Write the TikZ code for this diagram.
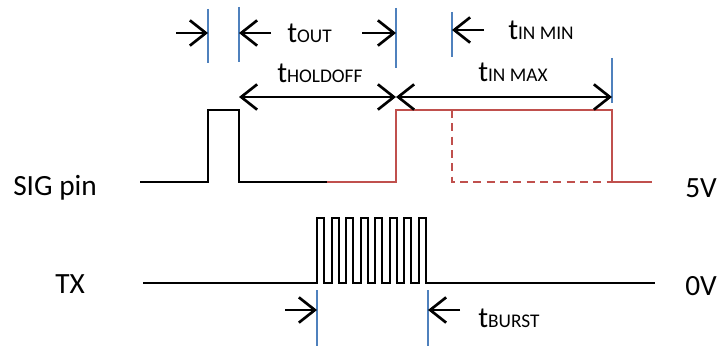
\documentclass[tikz,border=0pt]{standalone}
\usepackage{fontspec}
\setmainfont{Carlito}
\usetikzlibrary{arrows.meta,positioning}
\definecolor{sigred}{HTML}{C0504D}
\definecolor{guideblue}{HTML}{4F81BD}
\newcommand\sbs[1]{{\fontsize{14.5}{16}\selectfont #1}}
\tikzset{
  wave/.style={line width=1.5pt,line join=miter},
  redwave/.style={wave,sigred},
  guide/.style={guideblue,line width=1.2pt},
  ar/.style={-{Straight Barb[length=12pt,width=19pt]},line width=2pt},
  dar/.style={{Straight Barb[length=12pt,width=19pt]}-{Straight Barb[length=12pt,width=19pt]},line width=2pt},
  lbl/.style={font=\fontsize{22}{26}\selectfont,inner sep=0pt,anchor=base west}
}
\begin{document}
\begin{tikzpicture}[x=0.75pt,y=-0.75pt]
\useasboundingbox (0,0) rectangle (721,346);
% signal names and levels
\node[lbl] (sig) at (13,195) {SIG pin};
\node[lbl] (tx) at (55,293) {TX};
\node[lbl] (five) at (685,197) {5V};
\node[lbl] (zero) at (685,295) {0V};
% SIG pin waveform
\draw[wave] (140,182) -- (208,182) -- (208,110) -- (239,110) -- (239,182) -- (327,182);
\draw[redwave] (327,182) -- (396,182) -- (396,110) -- (612,110) -- (612,182) -- (652,182);
\draw[redwave,dash pattern=on 6pt off 4pt] (452,110) -- (452,182) -- (612,182);
% TX burst
\draw[wave] (143,283) -- (317,283)
  foreach \k in {1,...,8}{ -- ++(0,-65) -- ++(7.3,0) -- ++(0,65) -- ++(7.2,0) }
  -- (655,283);
% guide marks
\coordinate (g1t) at (208,9);   \coordinate (g1b) at (208,63);
\coordinate (g2t) at (239,7);   \coordinate (g2b) at (239,62);
\coordinate (g3t) at (396,8);   \coordinate (g3b) at (396,68);
\coordinate (g4t) at (452,12);  \coordinate (g4b) at (452,57);
\coordinate (g5t) at (612,58);  \coordinate (g5b) at (612,103);
\coordinate (g6t) at (317,290); \coordinate (g6b) at (317,346);
\coordinate (g7t) at (428,290); \coordinate (g7b) at (428,346);
\foreach \g in {1,...,7}{\draw[guide] (g\g t) -- (g\g b);}
% timing arrows
\coordinate (a1) at (176,33);  \coordinate (a1e) at (208,33);
\coordinate (a2) at (271,33);  \coordinate (a2e) at (239,33);
\coordinate (a3) at (362,33);  \coordinate (a3e) at (396,33);
\coordinate (a4) at (484,30);  \coordinate (a4e) at (452,30);
\coordinate (h1) at (239,97);  \coordinate (h2) at (396,97); \coordinate (h3) at (612,97);
\coordinate (b1) at (285,310); \coordinate (b1e) at (317,310);
\coordinate (b2) at (460,310); \coordinate (b2e) at (428,310);
\draw[ar] (a1) -- (a1e);
\draw[ar] (a2) -- (a2e);
\draw[ar] (a3) -- (a3e);
\draw[ar] (a4) -- (a4e);
\draw[dar] (h1) -- (h2);
\draw[dar] (h2) -- (h3);
\draw[ar] (b1) -- (b1e);
\draw[ar] (b2) -- (b2e);
% timing labels
\node[lbl] (tout) at (287,43) {t\sbs{OUT}};
\node[lbl] (thold) at (277,83) {t\sbs{HOLDOFF}};
\node[lbl] (tinmin) at (508,40) {t\sbs{IN MIN}};
\node[lbl] (tinmax) at (478,82) {t\sbs{IN MAX}};
\node[lbl] (tburst) at (478,327) {t\sbs{BURST}};
\end{tikzpicture}
\end{document}
